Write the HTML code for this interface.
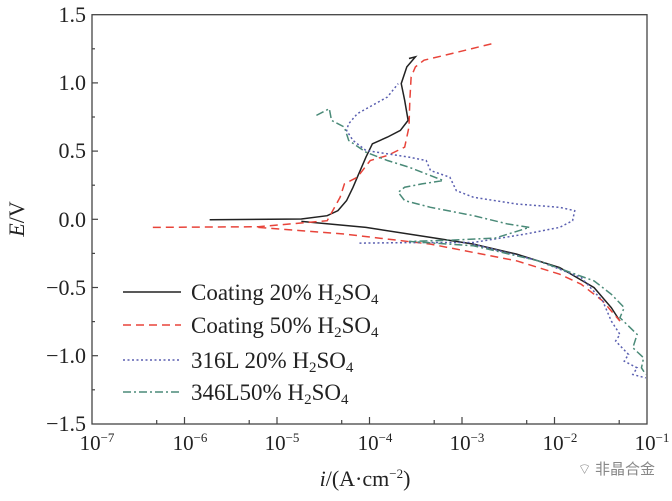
<!DOCTYPE html>
<html><head><meta charset="utf-8"><style>
body{margin:0;background:#fff;width:672px;height:496px;overflow:hidden}
text{font-family:"Liberation Serif",serif;fill:#222}
</style></head><body>
<svg width="672" height="496" viewBox="0 0 672 496" xmlns="http://www.w3.org/2000/svg">
<rect x="92" y="14.7" width="555" height="409.3" fill="none" stroke="#444" stroke-width="1.3"/>
<g stroke="#444" stroke-width="1.2">
<line x1="92" y1="82.9" x2="98" y2="82.9"/><line x1="92" y1="151.1" x2="98" y2="151.1"/><line x1="92" y1="219.3" x2="98" y2="219.3"/><line x1="92" y1="287.5" x2="98" y2="287.5"/><line x1="92" y1="355.7" x2="98" y2="355.7"/>
<line x1="92" y1="48.8" x2="95" y2="48.8"/><line x1="92" y1="117" x2="95" y2="117"/><line x1="92" y1="185.2" x2="95" y2="185.2"/><line x1="92" y1="253.4" x2="95" y2="253.4"/><line x1="92" y1="321.6" x2="95" y2="321.6"/><line x1="92" y1="389.8" x2="95" y2="389.8"/>
<line x1="184.5" y1="424" x2="184.5" y2="417"/><line x1="277" y1="424" x2="277" y2="417"/><line x1="369.5" y1="424" x2="369.5" y2="417"/><line x1="462" y1="424" x2="462" y2="417"/><line x1="554.5" y1="424" x2="554.5" y2="417"/>
<line x1="156.7" y1="424" x2="156.7" y2="420"/><line x1="249.2" y1="424" x2="249.2" y2="420"/><line x1="341.7" y1="424" x2="341.7" y2="420"/><line x1="434.2" y1="424" x2="434.2" y2="420"/><line x1="526.7" y1="424" x2="526.7" y2="420"/><line x1="619.2" y1="424" x2="619.2" y2="420"/>
</g>
<g font-size="22" text-anchor="end">
<text x="86" y="22">1.5</text><text x="86" y="90">1.0</text><text x="86" y="158">0.5</text><text x="86" y="227">0.0</text><text x="86" y="295">−0.5</text><text x="86" y="363">−1.0</text><text x="86" y="431">−1.5</text>
</g>
<g font-size="21" text-anchor="middle">
<text x="97" y="450">10<tspan font-size="13" dy="-8">−7</tspan></text>
<text x="190" y="450">10<tspan font-size="13" dy="-8">−6</tspan></text>
<text x="282" y="450">10<tspan font-size="13" dy="-8">−5</tspan></text>
<text x="375" y="450">10<tspan font-size="13" dy="-8">−4</tspan></text>
<text x="467" y="450">10<tspan font-size="13" dy="-8">−3</tspan></text>
<text x="560" y="450">10<tspan font-size="13" dy="-8">−2</tspan></text>
<text x="652" y="450">10<tspan font-size="13" dy="-8">−1</tspan></text>
</g>
<text x="365" y="486" font-size="22" text-anchor="middle"><tspan font-style="italic">i</tspan>/(A·cm<tspan font-size="13" dy="-8">−2</tspan><tspan dy="8">)</tspan></text>
<text transform="translate(24,219) rotate(-90)" font-size="22" text-anchor="middle"><tspan font-style="italic">E</tspan>/V</text>
<text x="655" y="474" font-size="15" text-anchor="end" style="font-family:'Noto Sans CJK SC',sans-serif;fill:#888">⌔ 非晶合金</text>
<g transform="scale(0.4305,0.3344)" fill="none">
<path vector-effect="non-scaling-stroke" stroke="#222" stroke-width="1.5" d="M487,657 L700,655 L760,645 L785,630 L805,600 L820,560 L830,530 L850,470 L865,430 L900,410 L930,390 L948,360 L940,300 L932,250 L945,200 L965,170 L950,175 M700,662 L850,680 L1000,710 L1100,730 L1200,760 L1300,800 L1380,860 L1420,920 L1440,960"/>
<path vector-effect="non-scaling-stroke" stroke="#e8443a" stroke-width="1.5" stroke-dasharray="8,5" d="M355,680 L600,678 L760,660 L790,590 L800,550 L830,530 L860,480 L900,465 L940,440 L950,380 L952,300 L955,230 L965,200 L985,180 L1050,160 L1145,130 M600,680 L800,700 L1000,730 L1200,780 L1300,820 L1350,850 L1400,900 L1440,960"/>
<path vector-effect="non-scaling-stroke" stroke="#5a5fb0" stroke-width="1.5" stroke-dasharray="2,2.5" d="M835,727 L1000,725 L1100,725 L1220,700 L1300,680 L1330,660 L1335,630 L1300,620 L1200,610 L1100,590 L1060,570 L1045,530 L1000,510 L990,480 L950,470 L900,460 L850,450 L820,420 L805,390 L810,370 L830,340 L900,290 L925,250 M1100,730 L1250,780 L1350,830 L1400,900 L1420,960 L1440,1000 L1430,1020 L1460,1060 L1450,1080 L1480,1100 L1470,1120 L1500,1130"/>
<path vector-effect="non-scaling-stroke" stroke="#4a8a78" stroke-width="1.5" stroke-dasharray="8,3,2,3" d="M735,345 L765,325 L770,360 L800,380 L810,420 L850,455 L900,480 L950,500 L1000,525 L1030,540 L980,550 L940,560 L925,575 L940,600 L1000,620 L1100,645 L1180,670 L1230,680 L1150,712 L1050,718 L950,722 L1100,735 L1250,780 L1380,840 L1420,880 L1450,920 L1440,950 L1480,1000 L1470,1040 L1495,1070 L1490,1100 L1500,1120"/>
</g>
<g stroke-width="1.5">
<line x1="123" y1="292" x2="181" y2="292" stroke="#222"/>
<line x1="123" y1="325" x2="181" y2="325" stroke="#e8443a" stroke-dasharray="8,5"/>
<line x1="123" y1="360" x2="181" y2="360" stroke="#5a5fb0" stroke-dasharray="2,2.5"/>
<line x1="123" y1="392" x2="181" y2="392" stroke="#4a8a78" stroke-dasharray="8,3,2,3"/>
</g>
<g font-size="23">
<text x="191" y="300">Coating 20% H<tspan font-size="15" dy="4">2</tspan><tspan dy="-4">SO</tspan><tspan font-size="15" dy="4">4</tspan></text>
<text x="191" y="333">Coating 50% H<tspan font-size="15" dy="4">2</tspan><tspan dy="-4">SO</tspan><tspan font-size="15" dy="4">4</tspan></text>
<text x="191" y="368">316L 20% H<tspan font-size="15" dy="4">2</tspan><tspan dy="-4">SO</tspan><tspan font-size="15" dy="4">4</tspan></text>
<text x="191" y="400">346L50% H<tspan font-size="15" dy="4">2</tspan><tspan dy="-4">SO</tspan><tspan font-size="15" dy="4">4</tspan></text>
</g>
</svg>
</body></html>
